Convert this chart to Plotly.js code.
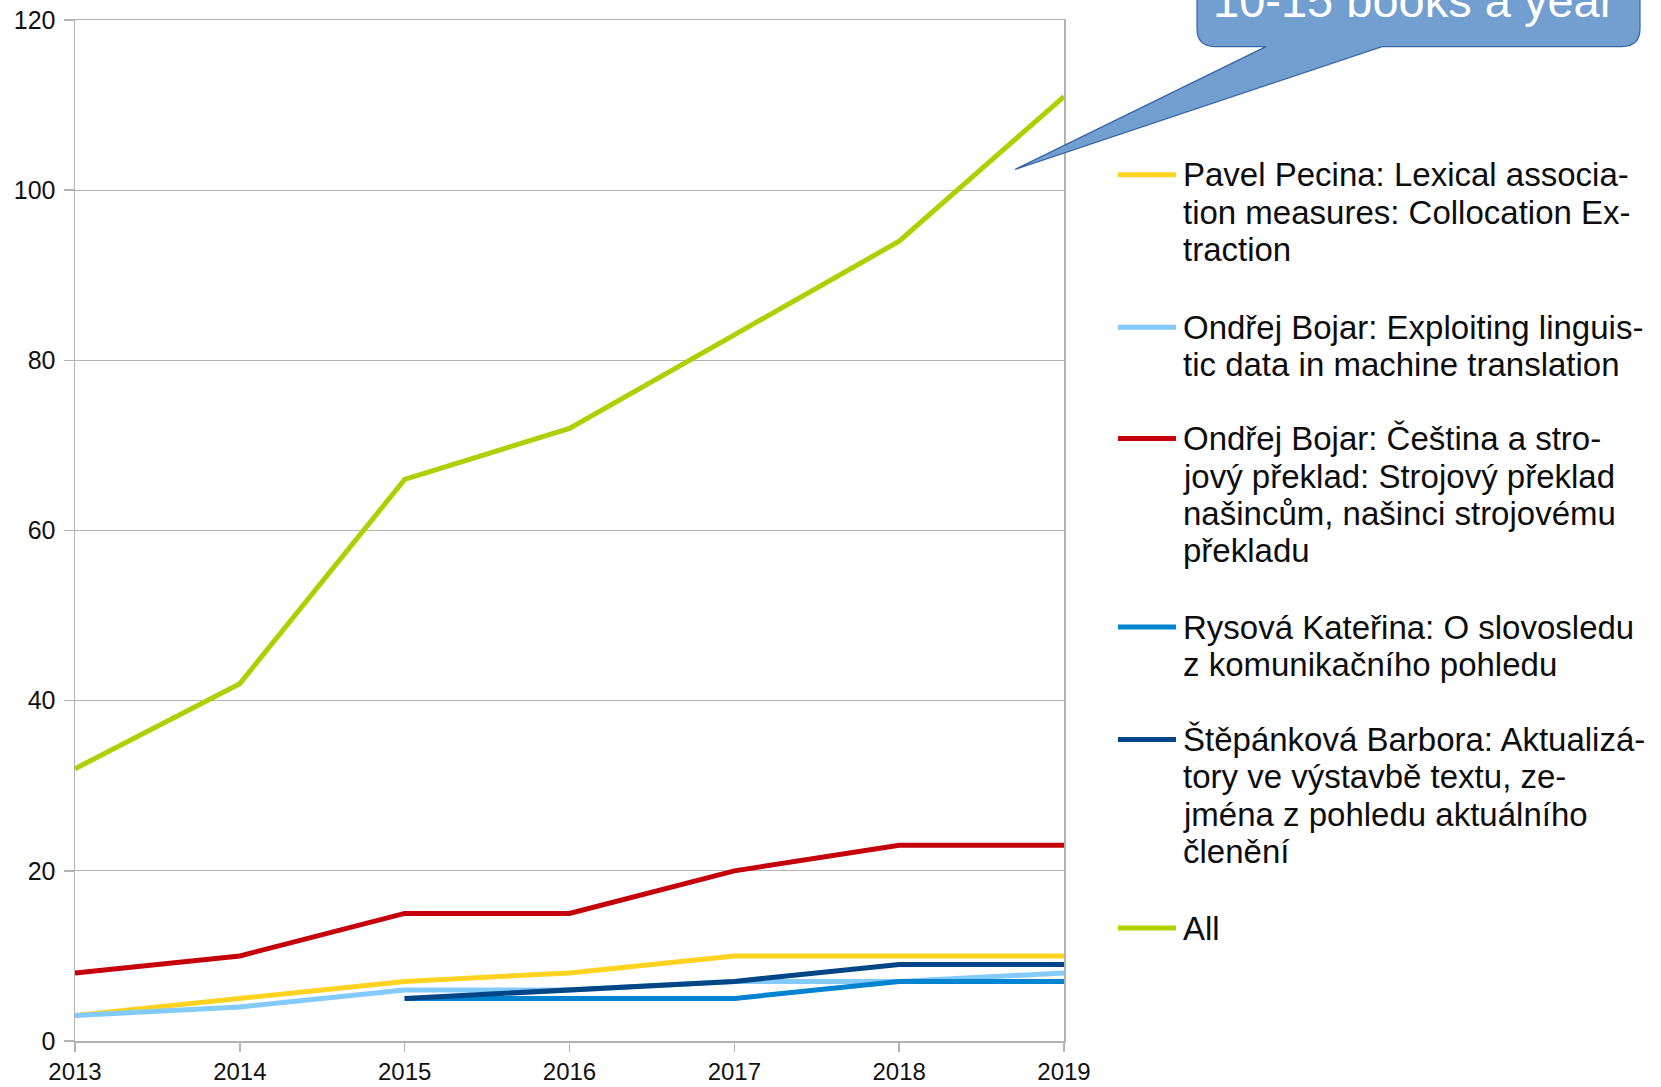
<!DOCTYPE html>
<html>
<head>
<meta charset="utf-8">
<script src="https://cdn.plot.ly/plotly-3.0.1.min.js"></script>
<style>html,body{margin:0;padding:0;background:#fff;}#chart{width:1661px;height:1087px;}</style>
</head>
<body>
<div id="chart"></div>
<script>
// ---- data ----
const years = [2013, 2014, 2015, 2016, 2017, 2018, 2019];
const pecina = [3, 5, 7, 8, 10, 10, 10];
const bojarExploiting = [3, 4, 6, 6, 7, 7, 8];
const bojarCestina = [8, 10, 15, 15, 20, 23, 23];
const rysova = [null, null, 5, 5, 5, 7, 7];
const stepankova = [null, null, 5, 6, 7, 9, 9];
const all = [32, 42, 66, 72, 83, 94, 111];

const seriesNames = [
  "Pavel Pecina: Lexical associa-<br>tion measures: Collocation Ex-<br>traction",
  "Ondřej Bojar: Exploiting linguis-<br>tic data in machine translation",
  "Ondřej Bojar: Čeština a stro-<br>jový překlad: Strojový překlad<br>našincům, našinci strojovému<br>překladu",
  "Rysová Kateřina: O slovosledu<br>z komunikačního pohledu",
  "Štěpánková Barbora: Aktualizá-<br>tory ve výstavbě textu, ze-<br>jména z pohledu aktuálního<br>členění",
  "All"
];
const seriesValues = [pecina, bojarExploiting, bojarCestina, rysova, stepankova, all];
const seriesColors = ["#ffd320", "#83caff", "#c5000b", "#0084d1", "#004586", "#aecf00"];
const calloutText = "10-15 books a year";

// ---- layout geometry (pixels) ----
const W = 1661, H = 1087;
const L = 75, R = 1064, T = 20, B = 1041;
const pw = R - L, ph = B - T;
const px = x => (x - L) / pw;
const py = y => (B - y) / ph;

const traces = seriesValues.map((v, i) => ({
  x: years, y: v, type: 'scatter', mode: 'lines',
  name: seriesNames[i].replace(/-<br>/g, '').replace(/<br>/g, ' '),
  line: {color: seriesColors[i], width: 5},
  connectgaps: false, showlegend: false, hoverinfo: 'skip'
}));

const shapes = [];
const annotations = [];

// manual legend
const legendFirstY = [174.8, 327.3, 438.6, 627.1, 739.4, 928];
const lineGap = 37.4;
seriesNames.forEach((nm, i) => {
  const y0 = legendFirstY[i];
  shapes.push({type: 'line', xref: 'paper', yref: 'paper',
    x0: px(1118), x1: px(1176), y0: py(y0), y1: py(y0),
    line: {color: seriesColors[i], width: 5}});
  nm.split('<br>').forEach((ln, j) => {
    annotations.push({xref: 'paper', yref: 'paper', x: px(1181), y: py(y0 + j * lineGap),
      xanchor: 'left', yanchor: 'middle', showarrow: false, text: ln,
      font: {family: 'Liberation Sans, Arial, sans-serif', size: 33, color: '#0d0d0d'}});
  });
});

// callout
const r = 18;
const pts = [
  ['M', 1197, -80], ['L', 1197, 46.6 - r], ['Q', 1197, 46.6, 1197 + r, 46.6],
  ['L', 1266, 46.6], ['L', 1015, 169.5], ['L', 1382, 46.6],
  ['L', 1640 - r, 46.6], ['Q', 1640, 46.6, 1640, 46.6 - r], ['L', 1640, -80]
];
let path = '';
pts.forEach(p => {
  path += p[0];
  const c = [];
  for (let k = 1; k < p.length; k += 2) c.push(px(p[k]) + ',' + py(p[k + 1]));
  path += c.join(' ') + ' ';
});
path += 'Z';
shapes.push({type: 'path', xref: 'paper', yref: 'paper', path: path,
  fillcolor: '#729fcf', line: {color: '#3465a4', width: 1.2}, layer: 'above'});
annotations.push({xref: 'paper', yref: 'paper', x: px(1414), y: py(0),
  xanchor: 'center', yanchor: 'middle', showarrow: false, text: calloutText,
  font: {family: 'Liberation Sans, Arial, sans-serif', size: 47, color: '#ffffff'}});

const layout = {
  width: W, height: H,
  margin: {l: L, r: W - R, t: T, b: H - B, pad: 0},
  paper_bgcolor: '#ffffff', plot_bgcolor: '#ffffff',
  showlegend: false,
  font: {family: 'Liberation Sans, Arial, sans-serif', color: '#111'},
  xaxis: {
    range: [2013, 2019], tickvals: years, ticktext: years.map(String),
    showgrid: false, zeroline: false,
    showline: true, mirror: true, linecolor: '#b3b3b3', linewidth: 1.5,
    ticks: 'outside', ticklen: 9, tickcolor: '#b3b3b3', tickwidth: 1.5,
    ticklabelstandoff: 0,
    tickfont: {size: 24, color: '#111'}, fixedrange: true
  },
  yaxis: {
    range: [0, 120], dtick: 20, tick0: 0,
    showgrid: true, gridcolor: '#b3b3b3', gridwidth: 1, zeroline: false,
    showline: true, mirror: true, linecolor: '#b3b3b3', linewidth: 1.5,
    ticks: 'outside', ticklen: 10, tickcolor: '#b3b3b3', tickwidth: 1.5,
    ticklabelstandoff: 3,
    tickfont: {size: 25, color: '#111'}, fixedrange: true
  },
  shapes: shapes,
  annotations: annotations
};

Plotly.newPlot('chart', traces, layout, {staticPlot: true, displayModeBar: false});
</script>
</body>
</html>
